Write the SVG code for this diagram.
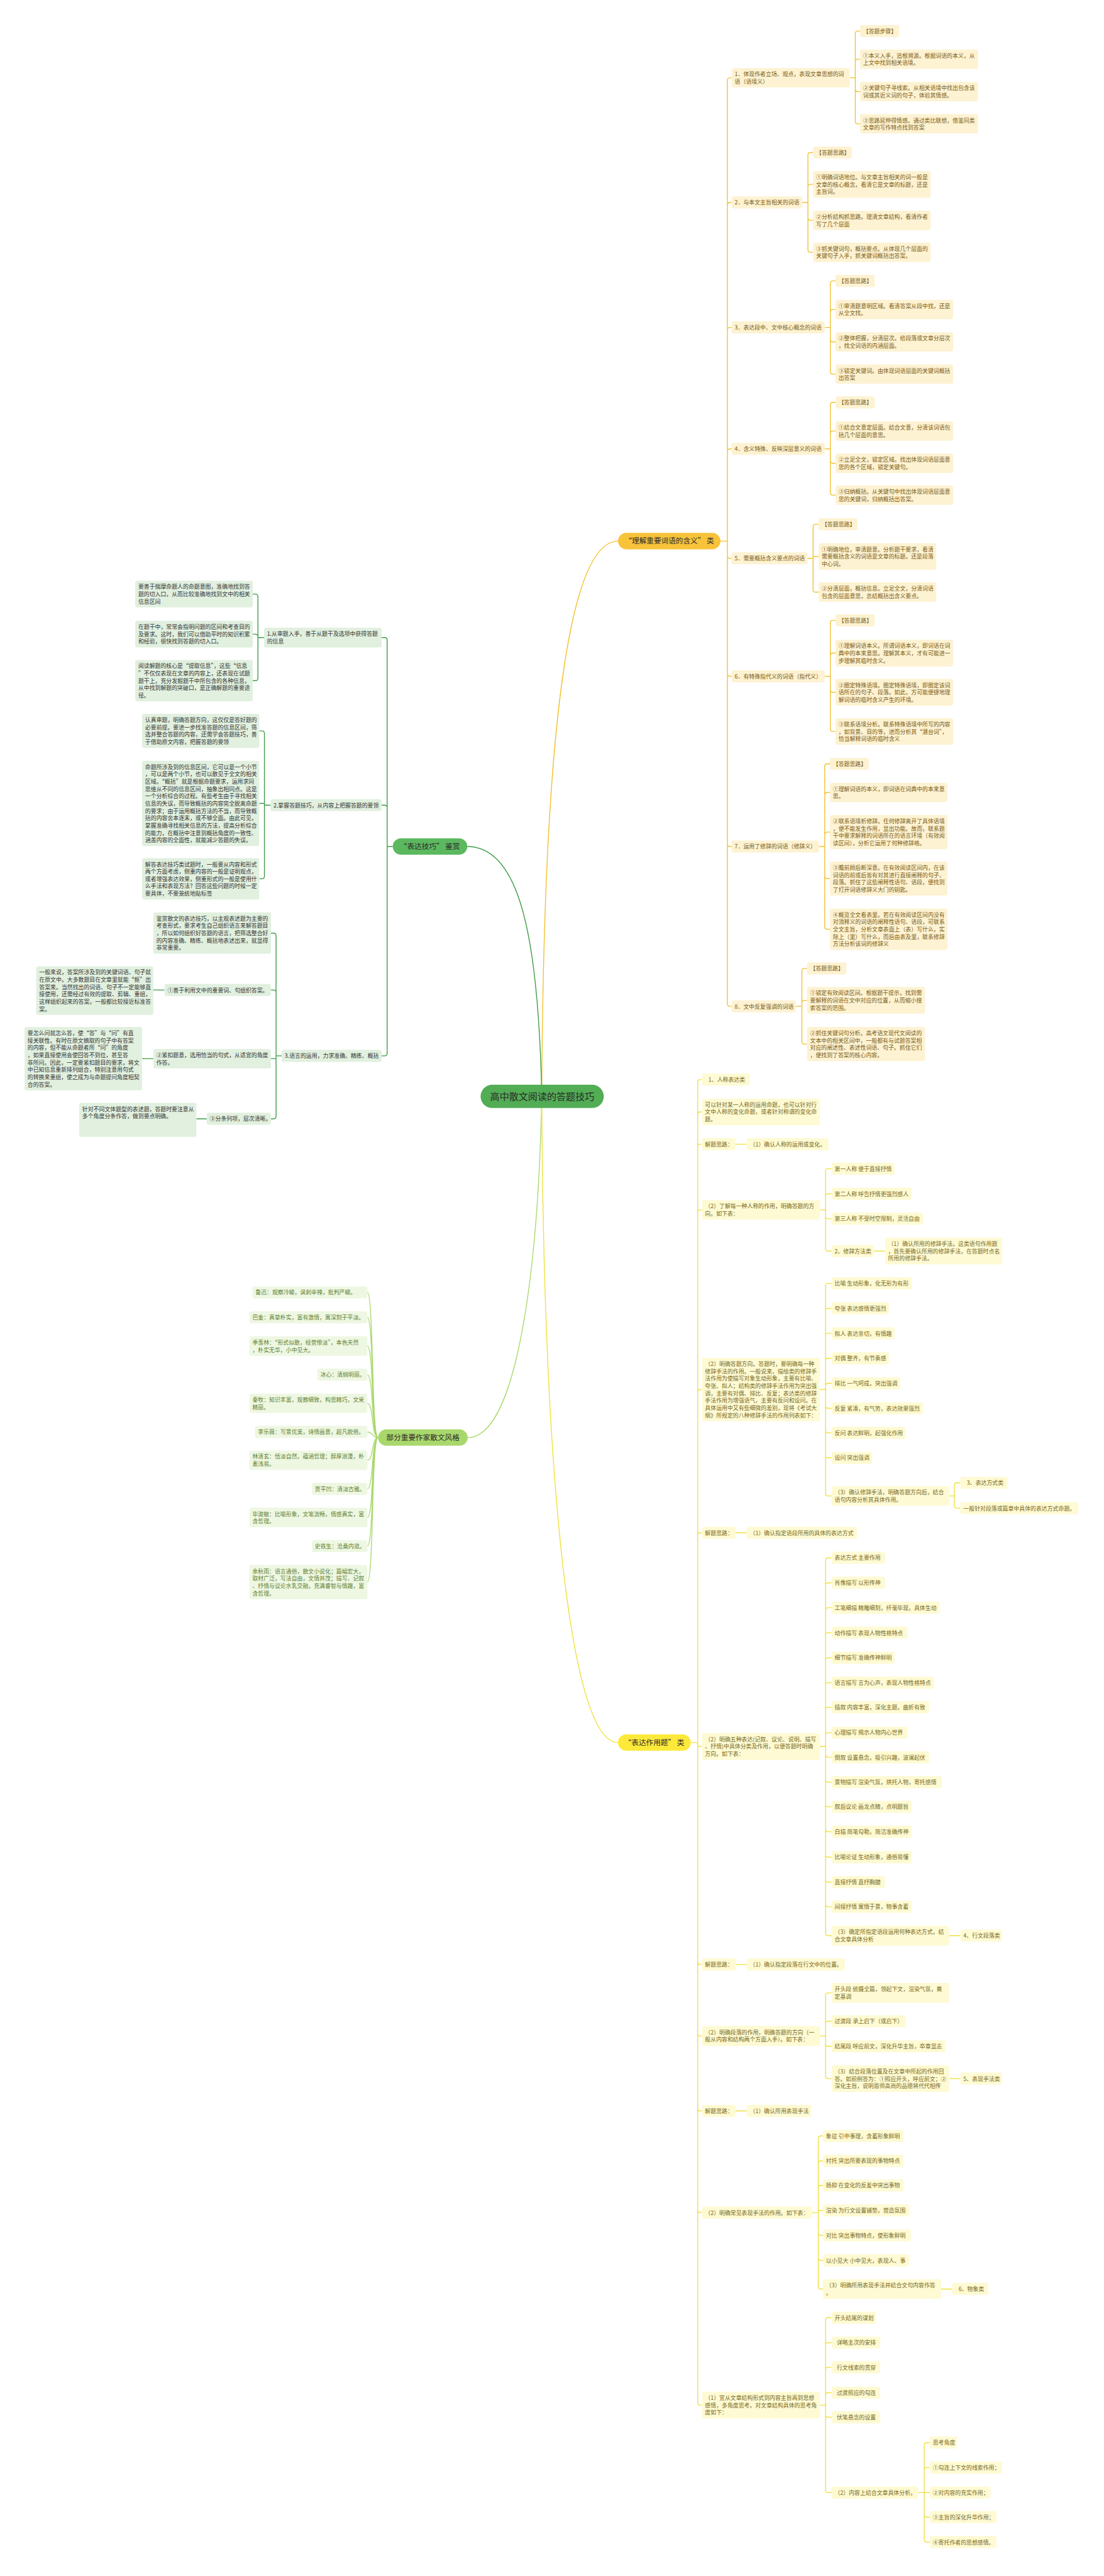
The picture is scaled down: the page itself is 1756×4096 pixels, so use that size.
<svg xmlns="http://www.w3.org/2000/svg" width="1756" height="4096" viewBox="0 0 1756 4096">
<style>
text{font-family:"Noto Sans CJK SC","Noto Sans",sans-serif;font-size:13px}
.a rect{fill:#fdf2d2}.a text{fill:#7a5c14}
.b rect{fill:#e1f0df}.b text{fill:#333333}
.c rect{fill:#eef7e2}.c text{fill:#5f8030}
.d rect{fill:#fefad3}.d text{fill:#77691c}
.lk path{fill:none;stroke-width:2}
.lab text{font-size:17px;text-anchor:middle;fill:#2a2a2a}
</style>
<rect width="1756" height="4096" fill="#ffffff"/>
<g transform="scale(0.685)">
<g id="connectors" class="lk">
<path stroke="#f2c12e" stroke-width="2.5" d="M1258,2545C1262,1700 1320,1256 1435,1256"/>
<path stroke="#3d9b47" stroke-width="2.5" d="M1258,2545C1250,2150 1200,1965 1085,1965"/>
<path stroke="#a9d96c" stroke-width="2.5" d="M1258,2545C1250,2950 1200,3337 1086,3337"/>
<path stroke="#f0e03a" stroke-width="2.5" d="M1258,2545C1262,3400 1320,4045 1435,4045"/>
<path stroke="#f2c12e" d="M1673,1256H1689M1689,1256V186.5Q1689,180.5 1695,180.5H1699M1689,1256V476Q1689,470 1695,470H1699M1689,1256V766Q1689,760 1695,760H1699M1689,1256V1048Q1689,1042 1695,1042H1699M1689,1256V1290Q1689,1296 1695,1296H1699M1689,1256V1564Q1689,1570 1695,1570H1699M1689,1256V1959Q1689,1965 1695,1965H1699M1689,1256V2330Q1689,2336 1695,2336H1699
M1973,180.5H1986M1986,180.5V78Q1986,72 1992,72H1997M1986,180.5V143.5Q1986,137.5 1992,137.5H1997M1986,180.5V206.5Q1986,212.5 1992,212.5H1997M1986,180.5V281.5Q1986,287.5 1992,287.5H1997
M1863,470H1876M1876,470V360Q1876,354 1882,354H1888M1876,470V434Q1876,428 1882,428H1888M1876,470V505.5Q1876,511.5 1882,511.5H1888M1876,470V579.5Q1876,585.5 1882,585.5H1888
M1915,760H1928M1928,760V658Q1928,652 1934,652H1940M1928,760V724.5Q1928,718.5 1934,718.5H1940M1928,760V787.5Q1928,793.5 1934,793.5H1940M1928,760V862.5Q1928,868.5 1934,868.5H1940
M1915,1042H1928M1928,1042V940Q1928,934 1934,934H1940M1928,1042V1006.5Q1928,1000.5 1934,1000.5H1940M1928,1042V1069.5Q1928,1075.5 1934,1075.5H1940M1928,1042V1143.5Q1928,1149.5 1934,1149.5H1940
M1875,1296H1888M1888,1296V1223Q1888,1217 1894,1217H1901M1888,1296V1292H1901M1888,1296V1368.5Q1888,1374.5 1894,1374.5H1901
M1915,1570H1928M1928,1570V1446Q1928,1440 1934,1440H1940M1928,1570V1522Q1928,1516 1934,1516H1940M1928,1570V1601Q1928,1607 1934,1607H1940M1928,1570V1692Q1928,1698 1934,1698H1940
M1902,1965H1915M1915,1965V1779Q1915,1773 1921,1773H1927M1915,1965V1845.5Q1915,1839.5 1921,1839.5H1927M1915,1965V1937.5Q1915,1931.5 1921,1931.5H1927M1915,1965V2033.5Q1915,2039.5 1921,2039.5H1927M1915,1965V2151Q1915,2157 1921,2157H1927
M1848,2336H1862M1862,2336V2254Q1862,2248 1868,2248H1874M1862,2336V2328Q1862,2322 1868,2322H1874M1862,2336V2417.5Q1862,2423.5 1868,2423.5H1874"/>
<path stroke="#3d9b47" d="M912,1965H899M899,1965V1486Q899,1480 893,1480H886M899,1965V1875Q899,1869 893,1869H886M899,1965V2445Q899,2451 893,2451H886
M613,1480H599M599,1480V1385Q599,1379 593,1379H587M599,1480V1478Q599,1472 593,1472H587M599,1480V1574Q599,1580 593,1580H587
M628,1869H614M614,1869V1702.5Q614,1696.5 608,1696.5H602M614,1869V1865H602M614,1869V2034Q614,2040 608,2040H602
M654,2451H641M641,2451V2172Q641,2166 635,2166H629M641,2451V2304Q641,2298 635,2298H629M641,2451V2457.5H629M641,2451V2591Q641,2597 635,2597H629
M382,2298H356M356,2457.5H330M480,2597H456"/>
<path stroke="#a9d96c" d="M878,3337C862,3337 868,3000 853,3000M878,3337C862,3337 868,3058 853,3058M878,3337C862,3337 868,3124.5 853,3124.5M878,3337C862,3337 868,3191 853,3191M878,3337C862,3337 868,3257.5 853,3257.5M878,3337C862,3337 868,3324 853,3324M878,3337C862,3337 868,3389.5 853,3389.5M878,3337C862,3337 868,3456 853,3456M878,3337C862,3337 868,3522.5 853,3522.5M878,3337C862,3337 868,3589 853,3589M878,3337C862,3337 868,3672.5 853,3672.5"/>
<path stroke="#f0e03a" d="M1604,4045H1620M1620,4045V2512Q1620,2506 1626,2506H1630M1620,4045V2587Q1620,2581 1626,2581H1630M1620,4045V2662Q1620,2656 1626,2656H1630M1620,4045V2814.5Q1620,2808.5 1626,2808.5H1630M1620,4045V3231.5Q1620,3225.5 1626,3225.5H1630M1620,4045V3564Q1620,3558 1626,3558H1630M1620,4045V4048Q1620,4054 1626,4054H1630M1620,4045V4554Q1620,4560 1626,4560H1630M1620,4045V4720Q1620,4726 1626,4726H1630M1620,4045V4894Q1620,4900 1626,4900H1630M1620,4045V5130Q1620,5136 1626,5136H1630M1620,4045V5577Q1620,5583 1626,5583H1630
M1708,2656H1734M1708,3558H1734M1708,4560H1734M1708,4900H1734
M1904,2808.5H1917M1917,2808.5V2719Q1917,2713 1923,2713H1931M1917,2808.5V2777Q1917,2771 1923,2771H1931M1917,2808.5V2823Q1917,2829 1923,2829H1931M1917,2808.5V2898Q1917,2904 1923,2904H1931M2029,2904H2055
M1904,3225.5H1917M1917,3225.5V2985Q1917,2979 1923,2979H1931M1917,3225.5V3043Q1917,3037 1923,3037H1931M1917,3225.5V3101Q1917,3095 1923,3095H1931M1917,3225.5V3159Q1917,3153 1923,3153H1931M1917,3225.5V3217Q1917,3211 1923,3211H1931M1917,3225.5V3263Q1917,3269 1923,3269H1931M1917,3225.5V3320Q1917,3326 1923,3326H1931M1917,3225.5V3378Q1917,3384 1923,3384H1931M1917,3225.5V3466.5Q1917,3472.5 1923,3472.5H1931
M2204,3472.5H2216M2216,3472.5V3448Q2216,3442 2222,3442H2230M2216,3472.5V3495Q2216,3501 2222,3501H2230
M1904,4054H1917M1917,4054V3622Q1917,3616 1923,3616H1931M1917,4054V3680Q1917,3674 1923,3674H1931M1917,4054V3738Q1917,3732 1923,3732H1931M1917,4054V3796Q1917,3790 1923,3790H1931M1917,4054V3854Q1917,3848 1923,3848H1931M1917,4054V3912Q1917,3906 1923,3906H1931M1917,4054V3969Q1917,3963 1923,3963H1931M1917,4054V4028Q1917,4022 1923,4022H1931M1917,4054V4073Q1917,4079 1923,4079H1931M1917,4054V4131Q1917,4137 1923,4137H1931M1917,4054V4188Q1917,4194 1923,4194H1931M1917,4054V4246Q1917,4252 1923,4252H1931M1917,4054V4305Q1917,4311 1923,4311H1931M1917,4054V4363Q1917,4369 1923,4369H1931M1917,4054V4420Q1917,4426 1923,4426H1931M1917,4054V4487Q1917,4493 1923,4493H1931M2204,4493H2230
M1904,4726H1917M1917,4726V4632Q1917,4626 1923,4626H1931M1917,4726V4698Q1917,4692 1923,4692H1931M1917,4726V4744Q1917,4750 1923,4750H1931M1917,4726V4819Q1917,4825 1923,4825H1931M2204,4825H2230
M1886,5136H1900M1900,5136V4964Q1900,4958 1906,4958H1911M1900,5136V5022Q1900,5016 1906,5016H1911M1900,5136V5079Q1900,5073 1906,5073H1911M1900,5136V5131H1911M1900,5136V5183Q1900,5189 1906,5189H1911M1900,5136V5241Q1900,5247 1906,5247H1911M1900,5136V5307.5Q1900,5313.5 1906,5313.5H1911M2185,5313.5H2211
M1904,5583H1917M1917,5583V5386Q1917,5380 1923,5380H1931M1917,5583V5444Q1917,5438 1923,5438H1931M1917,5583V5501Q1917,5495 1923,5495H1931M1917,5583V5560Q1917,5554 1923,5554H1931M1917,5583V5605Q1917,5611 1923,5611H1931M1917,5583V5780Q1917,5786 1923,5786H1931
M2132,5786H2146M2146,5786V5676Q2146,5670 2152,5670H2159M2146,5786V5734Q2146,5728 2152,5728H2159M2146,5786H2159M2146,5786V5837Q2146,5843 2152,5843H2159M2146,5786V5895Q2146,5901 2152,5901H2159"/>
</g>

<g id="center" class="lab"><rect x="1116" y="2518" width="286" height="54" rx="27" fill="#52ad55"/><text x="1259" y="2553" style="font-size:22px">高中散文阅读的答题技巧</text></g>
<g id="lab-top" class="lab"><rect x="1435" y="1237" width="238" height="38" rx="19" fill="#f8c33a"/><text x="1554" y="1262">“理解重要词语的含义” 类</text></g>
<g id="lab-left" class="lab"><rect x="912" y="1946" width="173" height="38" rx="19" fill="#5cb85f"/><text x="998" y="1971">“表达技巧” 鉴赏</text></g>
<g id="lab-bl" class="lab"><rect x="878" y="3318" width="208" height="38" rx="19" fill="#a8d86c"/><text x="982" y="3343">部分重要作家散文风格</text></g>
<g id="lab-br" class="lab"><rect x="1435" y="4026" width="169" height="38" rx="19" fill="#fde93a"/><text x="1519" y="4051">“表达作用题” 类</text></g>

<g id="r1" class="a"><rect x="1699" y="158" width="274" height="45" rx="5"/><text x="1706" y="177">1．体现作者立场、观点，表现文章思想的词<tspan x="1706" dy="17">语（语境义）</tspan></text></g>
<g id="r1a" class="a"><rect x="1997" y="58" width="91" height="28" rx="5"/><text x="2004" y="77">【答题步骤】</text></g>
<g id="r1b" class="a"><rect x="1997" y="115" width="274" height="45" rx="5"/><text x="2004" y="134">①本义入手，追根溯源。根据词语的本义，从<tspan x="2004" dy="17">上文中找到相关语境。</tspan></text></g>
<g id="r1c" class="a"><rect x="1997" y="190" width="274" height="45" rx="5"/><text x="2004" y="209">②关键句子寻线索。从相关语境中找出包含该<tspan x="2004" dy="17">词或其近义词的句子，体验其情感。</tspan></text></g>
<g id="r1d" class="a"><rect x="1997" y="265" width="274" height="45" rx="5"/><text x="2004" y="284">③思路延伸得情感。通过类比联想，借鉴同类<tspan x="2004" dy="17">文章的写作特点找到答案</tspan></text></g>

<g id="r2" class="a"><rect x="1699" y="456" width="164" height="28" rx="5"/><text x="1706" y="475">2．与本文主旨相关的词语</text></g>
<g id="r2a" class="a"><rect x="1888" y="340" width="90" height="28" rx="5"/><text x="1895" y="359">【答题思路】</text></g>
<g id="r2b" class="a"><rect x="1888" y="397" width="273" height="62" rx="5"/><text x="1895" y="416">①明确词语地位。与文章主旨相关的词一般是<tspan x="1895" dy="17">文章的核心概念，看清它是文章的标题，还是</tspan><tspan x="1895" dy="17">主旨词。</tspan></text></g>
<g id="r2c" class="a"><rect x="1888" y="489" width="273" height="45" rx="5"/><text x="1895" y="508">②分析结构抓思路。理清文章结构，看清作者<tspan x="1895" dy="17">写了几个层面</tspan></text></g>
<g id="r2d" class="a"><rect x="1888" y="563" width="273" height="45" rx="5"/><text x="1895" y="582">③抓关键词句，概括要点。从体现几个层面的<tspan x="1895" dy="17">关键句子入手，抓关键词概括出答案。</tspan></text></g>

<g id="r3" class="a"><rect x="1699" y="746" width="216" height="28" rx="5"/><text x="1706" y="765">3．表达段中、文中核心概念的词语</text></g>
<g id="r3a" class="a"><rect x="1940" y="638" width="91" height="28" rx="5"/><text x="1947" y="657">【答题思路】</text></g>
<g id="r3b" class="a"><rect x="1940" y="696" width="273" height="45" rx="5"/><text x="1947" y="715">①审清题意明区域。看清答案从段中找，还是<tspan x="1947" dy="17">从全文找。</tspan></text></g>
<g id="r3c" class="a"><rect x="1940" y="771" width="273" height="45" rx="5"/><text x="1947" y="790">②整体把握，分清层次。给段落或文章分层次<tspan x="1947" dy="17">，找全词语的内涵层面。</tspan></text></g>
<g id="r3d" class="a"><rect x="1940" y="846" width="273" height="45" rx="5"/><text x="1947" y="865">③锁定关键词。由体现词语层面的关键词概括<tspan x="1947" dy="17">出答案</tspan></text></g>

<g id="r4" class="a"><rect x="1699" y="1028" width="216" height="28" rx="5"/><text x="1706" y="1047">4．含义特殊、反映深层意义的词语</text></g>
<g id="r4a" class="a"><rect x="1940" y="920" width="91" height="28" rx="5"/><text x="1947" y="939">【答题思路】</text></g>
<g id="r4b" class="a"><rect x="1940" y="978" width="273" height="45" rx="5"/><text x="1947" y="997">①结合文意定层面。结合文意，分清该词语包<tspan x="1947" dy="17">括几个层面的意思。</tspan></text></g>
<g id="r4c" class="a"><rect x="1940" y="1053" width="273" height="45" rx="5"/><text x="1947" y="1072">②立足全文，锁定区域。找出体现词语层面意<tspan x="1947" dy="17">思的各个区域，锁定关键句。</tspan></text></g>
<g id="r4d" class="a"><rect x="1940" y="1127" width="273" height="45" rx="5"/><text x="1947" y="1146">③归纳概括。从关键句中找出体现词语层面意<tspan x="1947" dy="17">思的关键词，归纳概括出答案。</tspan></text></g>

<g id="r5" class="a"><rect x="1699" y="1282" width="176" height="28" rx="5"/><text x="1706" y="1301">5．需要概括含义要点的词语</text></g>
<g id="r5a" class="a"><rect x="1901" y="1203" width="90" height="28" rx="5"/><text x="1908" y="1222">【答题思路】</text></g>
<g id="r5b" class="a"><rect x="1901" y="1261" width="273" height="62" rx="5"/><text x="1908" y="1280">①明确地位，审清题意。分析题干要求，看清<tspan x="1908" dy="17">需要概括含义的词语是文章的标题，还是段落</tspan><tspan x="1908" dy="17">中心词。</tspan></text></g>
<g id="r5c" class="a"><rect x="1901" y="1352" width="273" height="45" rx="5"/><text x="1908" y="1371">②分清层面，概括信息。立足全文，分清词语<tspan x="1908" dy="17">包含的层面意思，总结概括出含义要点。</tspan></text></g>

<g id="r6" class="a"><rect x="1699" y="1556" width="216" height="28" rx="5"/><text x="1706" y="1575">6．有特殊指代义的词语（指代义）</text></g>
<g id="r6a" class="a"><rect x="1940" y="1426" width="91" height="28" rx="5"/><text x="1947" y="1445">【答题思路】</text></g>
<g id="r6b" class="a"><rect x="1940" y="1485" width="273" height="62" rx="5"/><text x="1947" y="1504">①理解词语本义。所谓词语本义，即词语在词<tspan x="1947" dy="17">典中的本来意思。理解其本义，才有可能进一</tspan><tspan x="1947" dy="17">步理解其临时含义。</tspan></text></g>
<g id="r6c" class="a"><rect x="1940" y="1576" width="273" height="62" rx="5"/><text x="1947" y="1595">②圈定特殊语境。圈定特殊语境，即圈定该词<tspan x="1947" dy="17">语所在的句子、段落。如此，方可能便捷地理</tspan><tspan x="1947" dy="17">解词语的临时含义产生的环境。</tspan></text></g>
<g id="r6d" class="a"><rect x="1940" y="1667" width="273" height="62" rx="5"/><text x="1947" y="1686">③联系语境分析。联系特殊语境中所写的内容<tspan x="1947" dy="17">，如背景、目的等，进而分析其“潜台词”，</tspan><tspan x="1947" dy="17">恰当解释词语的临时含义</tspan></text></g>

<g id="r7" class="a"><rect x="1699" y="1951" width="203" height="28" rx="5"/><text x="1706" y="1970">7．运用了修辞的词语（修辞义）</text></g>
<g id="r7a" class="a"><rect x="1927" y="1759" width="90" height="28" rx="5"/><text x="1934" y="1778">【答题思路】</text></g>
<g id="r7b" class="a"><rect x="1927" y="1817" width="273" height="45" rx="5"/><text x="1934" y="1836">①理解词语的本义，即词语在词典中的本来意<tspan x="1934" dy="17">思。</tspan></text></g>
<g id="r7c" class="a"><rect x="1927" y="1892" width="273" height="79" rx="5"/><text x="1934" y="1911">②联系语境析修辞。任何修辞离开了具体语境<tspan x="1934" dy="17">，便不能发生作用，显出功能。故而，联系题</tspan><tspan x="1934" dy="17">干中要求解释的词语所在的语言环境（有效阅</tspan><tspan x="1934" dy="17">读区间），分析它运用了何种修辞格。</tspan></text></g>
<g id="r7d" class="a"><rect x="1927" y="2000" width="273" height="79" rx="5"/><text x="1934" y="2019">③瞻前顾后断深意。在有效阅读区间内，在该<tspan x="1934" dy="17">词语的前或后皆有对其进行直接阐释的句子、</tspan><tspan x="1934" dy="17">段落。抓住了这些阐释性语句、语段，便找到</tspan><tspan x="1934" dy="17">了打开词语修辞义大门的钥匙。</tspan></text></g>
<g id="r7e" class="a"><rect x="1927" y="2109" width="273" height="96" rx="5"/><text x="1934" y="2128">④概览全文看表里。若在有效阅读区间内没有<tspan x="1934" dy="17">对须释义的词语的阐释性语句、语段，可联系</tspan><tspan x="1934" dy="17">全文主旨，分析文章表面上（表）写什么，实</tspan><tspan x="1934" dy="17">际上（里）写什么，而后由表及里，联系修辞</tspan><tspan x="1934" dy="17">方法分析该词的修辞义</tspan></text></g>

<g id="r8" class="a"><rect x="1699" y="2322" width="149" height="28" rx="5"/><text x="1706" y="2341">8．文中反复强调的词语</text></g>
<g id="r8a" class="a"><rect x="1874" y="2234" width="91" height="28" rx="5"/><text x="1881" y="2253">【答题思路】</text></g>
<g id="r8b" class="a"><rect x="1874" y="2291" width="274" height="62" rx="5"/><text x="1881" y="2310">①锁定有效阅读区间。根据题干提示，找到需<tspan x="1881" dy="17">要解释的词语在文中对应的位置，从而缩小搜</tspan><tspan x="1881" dy="17">索答案的范围。</tspan></text></g>
<g id="r8c" class="a"><rect x="1874" y="2384" width="274" height="79" rx="5"/><text x="1881" y="2403">②抓住关键词句分析。高考语文现代文阅读的<tspan x="1881" dy="17">文本中的相关区间中，一般都有与试题答案相</tspan><tspan x="1881" dy="17">对应的阐述性、表述性词语、句子。抓住它们</tspan><tspan x="1881" dy="17">，便找到了答案的核心内容。</tspan></text></g>

<g id="l1" class="b"><rect x="613" y="1457" width="273" height="46" rx="5"/><text x="620" y="1476">1.从审题入手，善于从题干及选项中获得答题<tspan x="620" dy="17">的信息</tspan></text></g>
<g id="l1a" class="b"><rect x="314" y="1348" width="273" height="62" rx="5"/><text x="321" y="1367">要善于揣摩命题人的命题意图，准确地找到答<tspan x="321" dy="17">题的切入口，从而比较准确地找到文中的相关</tspan><tspan x="321" dy="17">信息区间</tspan></text></g>
<g id="l1b" class="b"><rect x="314" y="1441" width="273" height="62" rx="5"/><text x="321" y="1460">在题干中，常常会指明问题的区间和考查目的<tspan x="321" dy="17">及要求。这时，我们可以借助平时的知识积累</tspan><tspan x="321" dy="17">和经验，很快找到答题的切入口。</tspan></text></g>
<g id="l1c" class="b"><rect x="314" y="1532" width="273" height="96" rx="5"/><text x="321" y="1551">阅读解题的核心是“提取信息”，这些“信息<tspan x="321" dy="17">”不仅仅表现在文章的内容上，还表现在试题</tspan><tspan x="321" dy="17">题干上，充分发掘题干中所包含的各种信息，</tspan><tspan x="321" dy="17">从中找到解题的突破口，是正确解题的重要途</tspan><tspan x="321" dy="17">径。</tspan></text></g>

<g id="l2" class="b"><rect x="628" y="1855" width="258" height="28" rx="5"/><text x="635" y="1874">2.掌握答题技巧，从内容上把握答题的要领</text></g>
<g id="l2a" class="b"><rect x="330" y="1657" width="272" height="79" rx="5"/><text x="337" y="1676">认真审题，明确答题方向，这仅仅是答好题的<tspan x="337" dy="17">必要前提。要进一步找准答题的信息区间，筛</tspan><tspan x="337" dy="17">选并整合答题的内容，还需学会答题技巧，善</tspan><tspan x="337" dy="17">于借助原文内容，把握答题的要领</tspan></text></g>
<g id="l2b" class="b"><rect x="330" y="1766" width="272" height="198" rx="5"/><text x="337" y="1785">命题所涉及到的信息区间，它可以是一个小节<tspan x="337" dy="17">，可以是两个小节，也可以散见于全文的相关</tspan><tspan x="337" dy="17">区域。“概括”就是根据命题要求，运用求同</tspan><tspan x="337" dy="17">思维从不同的信息区间，抽象出相同点。这是</tspan><tspan x="337" dy="17">一个分析综合的过程。有些考生由于寻找相关</tspan><tspan x="337" dy="17">信息的失误，而导致概括的内容完全脱离命题</tspan><tspan x="337" dy="17">的要求；由于运用概括方法的不当，而导致概</tspan><tspan x="337" dy="17">括的内容舍本逐末，或不够全面。由此可见，</tspan><tspan x="337" dy="17">掌握准确寻找相关信息的方法，提高分析综合</tspan><tspan x="337" dy="17">的能力，在概括中注意到概括角度的一致性、</tspan><tspan x="337" dy="17">涵盖内容的全面性，就能减少答题的失误。</tspan></text></g>
<g id="l2c" class="b"><rect x="330" y="1992" width="272" height="96" rx="5"/><text x="337" y="2011">解答表达技巧类试题时，一般要从内容和形式<tspan x="337" dy="17">两个方面考虑，侧重内容的一般是证明观点，</tspan><tspan x="337" dy="17">或者增强表达效果，侧重形式的一般是使用什</tspan><tspan x="337" dy="17">么手法和表现方法？回答这些问题的时候一定</tspan><tspan x="337" dy="17">要具体，不要笼统地贴标签</tspan></text></g>

<g id="l3" class="b"><rect x="654" y="2437" width="232" height="28" rx="5"/><text x="661" y="2456">3.语言的运用，力求准确、精练、概括</text></g>
<g id="l3a" class="b"><rect x="356" y="2118" width="273" height="96" rx="5"/><text x="363" y="2137">鉴赏散文的表达技巧，以主观表述题为主要的<tspan x="363" dy="17">考查形式，要求考生自己组织语言来解答题目</tspan><tspan x="363" dy="17">，所以如何组织好答题的语言，把筛选整合好</tspan><tspan x="363" dy="17">的内容准确、精练、概括地表述出来，就显得</tspan><tspan x="363" dy="17">非常重要。</tspan></text></g>
<g id="l3b" class="b"><rect x="382" y="2284" width="247" height="28" rx="5"/><text x="389" y="2303">①善于利用文中的重要词、句组织答案。</text></g>
<g id="l3b1" class="b"><rect x="84" y="2243" width="272" height="113" rx="5"/><text x="91" y="2262">一般来说，答案所涉及到的关键词语、句子就<tspan x="91" dy="17">在原文中。大多数题目在文章里就能“抠”出</tspan><tspan x="91" dy="17">答案来。当然找出的词语、句子不一定能够直</tspan><tspan x="91" dy="17">接使用，还需经过有效的提取、剪辑、重组，</tspan><tspan x="91" dy="17">这样组织起来的答案，一般都比较接近标准答</tspan><tspan x="91" dy="17">案。</tspan></text></g>
<g id="l3c" class="b"><rect x="356" y="2435" width="273" height="45" rx="5"/><text x="363" y="2454">②紧扣题意，选用恰当的句式，从适宜的角度<tspan x="363" dy="17">作答。</tspan></text></g>
<g id="l3c1" class="b"><rect x="57" y="2384" width="273" height="147" rx="5"/><text x="64" y="2403">要怎么问就怎么答，使“答”与“问”有直<tspan x="64" dy="17">接关联性。有时在原文摘取的句子中有答案</tspan><tspan x="64" dy="17">的内容，但不能从命题者所“问”的角度</tspan><tspan x="64" dy="17">，如果直接使用会使回答不到位，甚至答</tspan><tspan x="64" dy="17">非所问。因此，一定要紧扣题目的要求，将文</tspan><tspan x="64" dy="17">中已知信息重新排列组合，特别注意用句式</tspan><tspan x="64" dy="17">的转换来重组，使之成为与命题提问角度相契</tspan><tspan x="64" dy="17">合的答案。</tspan></text></g>
<g id="l3d" class="b"><rect x="480" y="2583" width="149" height="28" rx="5"/><text x="487" y="2602">③分条列项，层次清晰。</text></g>
<g id="l3d1" class="b"><rect x="184" y="2560" width="272" height="79" rx="5"/><text x="191" y="2579">针对不同文体题型的表述题，答题时要注意从<tspan x="191" dy="17">多个角度分条作答，做到要点明确。</tspan></text></g>

<g id="s1" class="c"><rect x="586" y="2986" width="267" height="28" rx="5"/><text x="593" y="3005">鲁迅：观察冷峻，讽刺辛辣，批判严峻。</text></g>
<g id="s2" class="c"><rect x="579" y="3044" width="274" height="28" rx="5"/><text x="586" y="3063">巴金：真挚朴实，富有激情，寓深刻于平淡。</text></g>
<g id="s3" class="c"><rect x="579" y="3102" width="274" height="45" rx="5"/><text x="586" y="3121">季羡林：“形式似散，经营惨淡”，本色天然<tspan x="586" dy="17">，朴实无华，小中见大。</tspan></text></g>
<g id="s4" class="c"><rect x="737" y="3177" width="116" height="28" rx="5"/><text x="744" y="3196">冰心：清婉明丽。</text></g>
<g id="s5" class="c"><rect x="579" y="3235" width="274" height="45" rx="5"/><text x="586" y="3254">秦牧：知识丰富，观察细致，构思精巧，文采<tspan x="586" dy="17">精丽。</tspan></text></g>
<g id="s6" class="c"><rect x="592" y="3310" width="261" height="28" rx="5"/><text x="599" y="3329">李乐薇：写景优美，诗情画意，超凡脱俗。</text></g>
<g id="s7" class="c"><rect x="579" y="3367" width="274" height="45" rx="5"/><text x="586" y="3386">林清玄：恬淡自然，蕴涵哲理；醇厚浪漫，朴<tspan x="586" dy="17">素浅易。</tspan></text></g>
<g id="s8" class="c"><rect x="724" y="3442" width="129" height="28" rx="5"/><text x="731" y="3461">贾平凹：清淡古雅。</text></g>
<g id="s9" class="c"><rect x="579" y="3500" width="274" height="45" rx="5"/><text x="586" y="3519">毕淑敏：比喻形象，文笔流畅，情感真实，富<tspan x="586" dy="17">含哲理。</tspan></text></g>
<g id="s10" class="c"><rect x="724" y="3575" width="129" height="28" rx="5"/><text x="731" y="3594">史铁生：沧桑内敛。</text></g>
<g id="s11" class="c"><rect x="579" y="3633" width="274" height="79" rx="5"/><text x="586" y="3652">余秋雨：语言通俗，散文小说化；篇幅宏大，<tspan x="586" dy="17">取材广泛，写法自由，文情并茂；描写、记叙</tspan><tspan x="586" dy="17">、抒情与议论水乳交融，充满睿智与情趣，富</tspan><tspan x="586" dy="17">含哲理。</tspan></text></g>

<g id="m1" class="d"><rect x="1630" y="2492" width="111" height="28" rx="5"/><text x="1645" y="2511">1、人称表达类</text></g>
<g id="m2" class="d"><rect x="1630" y="2550" width="274" height="62" rx="5"/><text x="1637" y="2569">可以针对某一人称的运用命题，也可以针对行<tspan x="1637" dy="17">文中人称的变化命题，或者针对称谓的变化命</tspan><tspan x="1637" dy="17">题。</tspan></text></g>
<g id="m3" class="d"><rect x="1630" y="2642" width="78" height="28" rx="5"/><text x="1637" y="2661">解题思路：</text></g>
<g id="m3a" class="d"><rect x="1734" y="2642" width="190" height="28" rx="5"/><text x="1741" y="2661">（1）确认人称的运用或变化。</text></g>
<g id="m4" class="d"><rect x="1630" y="2786" width="274" height="45" rx="5"/><text x="1637" y="2805">（2）了解每一种人称的作用，明确答题的方<tspan x="1637" dy="17">向。如下表：</tspan></text></g>
<g id="m4a" class="d"><rect x="1931" y="2699" width="146" height="28" rx="5"/><text x="1938" y="2718">第一人称 便于直接抒情</text></g>
<g id="m4b" class="d"><rect x="1931" y="2757" width="186" height="28" rx="5"/><text x="1938" y="2776">第二人称 呼告抒情更强烈感人</text></g>
<g id="m4c" class="d"><rect x="1931" y="2815" width="212" height="28" rx="5"/><text x="1938" y="2834">第三人称 不受时空限制，灵活自由</text></g>
<g id="m4d" class="d"><rect x="1931" y="2890" width="98" height="28" rx="5"/><text x="1938" y="2909">2、修辞方法类</text></g>
<g id="m4d1" class="d"><rect x="2055" y="2873" width="272" height="62" rx="5"/><text x="2062" y="2892">（1）确认所用的修辞手法。这类语句作用题<tspan x="2062" dy="17">，首先要确认所用的修辞手法，在答题时点名</tspan><tspan x="2062" dy="17">所用的修辞手法。</tspan></text></g>

<g id="m5" class="d"><rect x="1630" y="3152" width="274" height="147" rx="5"/><text x="1637" y="3171">（2）明确答题方向。答题时，要明确每一种<tspan x="1637" dy="17">修辞手法的作用。一般说来，描绘类的修辞手</tspan><tspan x="1637" dy="17">法作用为使描写对象生动形象，主要有比喻、</tspan><tspan x="1637" dy="17">夸张、拟人；结构类的修辞手法作用为突出强</tspan><tspan x="1637" dy="17">调，主要有对偶、排比、反复；表达类的修辞</tspan><tspan x="1637" dy="17">手法作用为增强语气，主要有反问和设问。在</tspan><tspan x="1637" dy="17">具体运用中又有些细微的差别，现将《考试大</tspan><tspan x="1637" dy="17">纲》所规定的八种修辞手法的作用列表如下：</tspan></text></g>
<g id="m5a" class="d"><rect x="1931" y="2965" width="186" height="28" rx="5"/><text x="1938" y="2984">比喻 生动形象，化无形为有形</text></g>
<g id="m5b" class="d"><rect x="1931" y="3023" width="133" height="28" rx="5"/><text x="1938" y="3042">夸张 表达感情更强烈</text></g>
<g id="m5c" class="d"><rect x="1931" y="3081" width="146" height="28" rx="5"/><text x="1938" y="3100">拟人 表达亲切，有情趣</text></g>
<g id="m5d" class="d"><rect x="1931" y="3139" width="133" height="28" rx="5"/><text x="1938" y="3158">对偶 整齐，有节奏感</text></g>
<g id="m5e" class="d"><rect x="1931" y="3197" width="159" height="28" rx="5"/><text x="1938" y="3216">排比 一气呵成，突出强调</text></g>
<g id="m5f" class="d"><rect x="1931" y="3255" width="212" height="28" rx="5"/><text x="1938" y="3274">反复 紧凑，有气势，表达效果强烈</text></g>
<g id="m5g" class="d"><rect x="1931" y="3312" width="172" height="28" rx="5"/><text x="1938" y="3331">反问 表达鲜明，起强化作用</text></g>
<g id="m5h" class="d"><rect x="1931" y="3370" width="94" height="28" rx="5"/><text x="1938" y="3389">设问 突出强调</text></g>
<g id="m5i" class="d"><rect x="1931" y="3450" width="273" height="45" rx="5"/><text x="1938" y="3469">（3）确认修辞手法，明确答题方向后，结合<tspan x="1938" dy="17">语句内容分析其具体作用。</tspan></text></g>
<g id="m5i1" class="d"><rect x="2230" y="3428" width="109" height="28" rx="5"/><text x="2245" y="3447">3、表达方式类</text></g>
<g id="m5i2" class="d"><rect x="2230" y="3487" width="274" height="28" rx="5"/><text x="2237" y="3506">一般针对段落或篇章中具体的表达方式命题。</text></g>

<g id="m6" class="d"><rect x="1630" y="3544" width="78" height="28" rx="5"/><text x="1637" y="3563">解题思路：</text></g>
<g id="m6a" class="d"><rect x="1734" y="3544" width="256" height="28" rx="5"/><text x="1741" y="3563">（1）确认指定语段所用的具体的表达方式</text></g>

<g id="m7" class="d"><rect x="1630" y="4023" width="274" height="62" rx="5"/><text x="1637" y="4042">（2）明确五种表达(记叙、议论、说明、描写<tspan x="1637" dy="17">、抒情)中具体分类及作用，以便答题时明确</tspan><tspan x="1637" dy="17">方向。如下表：</tspan></text></g>
<g id="m7a" class="d"><rect x="1931" y="3602" width="124" height="28" rx="5"/><text x="1938" y="3621">表达方式 主要作用</text></g>
<g id="m7b" class="d"><rect x="1931" y="3660" width="124" height="28" rx="5"/><text x="1938" y="3679">肖像描写 以形传神</text></g>
<g id="m7c" class="d"><rect x="1931" y="3718" width="251" height="28" rx="5"/><text x="1938" y="3737">工笔细描 精雕细刻，纤毫毕现，具体生动</text></g>
<g id="m7d" class="d"><rect x="1931" y="3776" width="176" height="28" rx="5"/><text x="1938" y="3795">动作描写 表现人物性格特点</text></g>
<g id="m7e" class="d"><rect x="1931" y="3834" width="146" height="28" rx="5"/><text x="1938" y="3853">细节描写 准确传神鲜明</text></g>
<g id="m7f" class="d"><rect x="1931" y="3892" width="238" height="28" rx="5"/><text x="1938" y="3911">语言描写 言为心声，表现人物性格特点</text></g>
<g id="m7g" class="d"><rect x="1931" y="3949" width="226" height="28" rx="5"/><text x="1938" y="3968">插叙 内容丰富，深化主题，曲折有致</text></g>
<g id="m7h" class="d"><rect x="1931" y="4008" width="176" height="28" rx="5"/><text x="1938" y="4027">心理描写 揭示人物内心世界</text></g>
<g id="m7i" class="d"><rect x="1931" y="4065" width="226" height="28" rx="5"/><text x="1938" y="4084">倒叙 设置悬念，吸引兴趣，波澜起伏</text></g>
<g id="m7j" class="d"><rect x="1931" y="4123" width="256" height="28" rx="5"/><text x="1938" y="4142">景物描写 渲染气氛，烘托人物，寄托感情</text></g>
<g id="m7k" class="d"><rect x="1931" y="4180" width="186" height="28" rx="5"/><text x="1938" y="4199">叙后议论 画龙点睛，点明题旨</text></g>
<g id="m7l" class="d"><rect x="1931" y="4238" width="186" height="28" rx="5"/><text x="1938" y="4257">白描 简笔勾勒，简洁准确传神</text></g>
<g id="m7m" class="d"><rect x="1931" y="4297" width="186" height="28" rx="5"/><text x="1938" y="4316">比喻论证 生动形象，通俗易懂</text></g>
<g id="m7n" class="d"><rect x="1931" y="4355" width="124" height="28" rx="5"/><text x="1938" y="4374">直接抒情 直抒胸臆</text></g>
<g id="m7o" class="d"><rect x="1931" y="4412" width="186" height="28" rx="5"/><text x="1938" y="4431">间接抒情 寓情于景，物事含蓄</text></g>
<g id="m7p" class="d"><rect x="1931" y="4470" width="273" height="46" rx="5"/><text x="1938" y="4489">（3）确定所指定语段运用何种表达方式，结<tspan x="1938" dy="17">合文章具体分析</tspan></text></g>
<g id="m7p1" class="d"><rect x="2230" y="4479" width="97" height="28" rx="5"/><text x="2237" y="4498">4、行文段落类</text></g>

<g id="m8" class="d"><rect x="1630" y="4546" width="78" height="28" rx="5"/><text x="1637" y="4565">解题思路：</text></g>
<g id="m8a" class="d"><rect x="1734" y="4546" width="228" height="28" rx="5"/><text x="1741" y="4565">（1）确认指定段落在行文中的位置。</text></g>

<g id="m9" class="d"><rect x="1630" y="4703" width="274" height="46" rx="5"/><text x="1637" y="4722">（2）明确段落的作用，明确答题的方向（一<tspan x="1637" dy="17">般从内容和结构两个方面入手）。如下表：</tspan></text></g>
<g id="m9a" class="d"><rect x="1931" y="4603" width="273" height="46" rx="5"/><text x="1938" y="4622">开头段 统摄全篇，领起下文，渲染气氛，奠<tspan x="1938" dy="17">定基调</tspan></text></g>
<g id="m9b" class="d"><rect x="1931" y="4678" width="172" height="28" rx="5"/><text x="1938" y="4697">过渡段 承上启下（或启下）</text></g>
<g id="m9c" class="d"><rect x="1931" y="4736" width="264" height="28" rx="5"/><text x="1938" y="4755">结尾段 呼应前文，深化升华主旨，卒章显志</text></g>
<g id="m9d" class="d"><rect x="1931" y="4794" width="273" height="62" rx="5"/><text x="1938" y="4813">（3）结合段落位置及在文章中所起的作用回<tspan x="1938" dy="17">答。如前例答为：①照应开头，呼应前文；②</tspan><tspan x="1938" dy="17">深化主旨，说明恩师高尚的品德将代代相传</tspan></text></g>
<g id="m9d1" class="d"><rect x="2230" y="4811" width="97" height="28" rx="5"/><text x="2237" y="4830">5、表现手法类</text></g>

<g id="m10" class="d"><rect x="1630" y="4886" width="78" height="28" rx="5"/><text x="1637" y="4905">解题思路：</text></g>
<g id="m10a" class="d"><rect x="1734" y="4886" width="150" height="28" rx="5"/><text x="1741" y="4905">（1）确认所用表现手法</text></g>

<g id="m11" class="d"><rect x="1630" y="5122" width="256" height="28" rx="5"/><text x="1637" y="5141">（2）明确常见表现手法的作用。如下表：</text></g>
<g id="m11a" class="d"><rect x="1911" y="4944" width="187" height="28" rx="5"/><text x="1918" y="4963">象征 引申事理，含蓄形象鲜明</text></g>
<g id="m11b" class="d"><rect x="1911" y="5002" width="187" height="28" rx="5"/><text x="1918" y="5021">衬托 突出所要表现的事物特点</text></g>
<g id="m11c" class="d"><rect x="1911" y="5059" width="187" height="28" rx="5"/><text x="1918" y="5078">扬抑 在变化的反差中突出事物</text></g>
<g id="m11d" class="d"><rect x="1911" y="5117" width="200" height="28" rx="5"/><text x="1918" y="5136">渲染 为行文设置铺垫，营造氛围</text></g>
<g id="m11e" class="d"><rect x="1911" y="5175" width="204" height="28" rx="5"/><text x="1918" y="5194">对比 突出事物特点，使形象鲜明</text></g>
<g id="m11f" class="d"><rect x="1911" y="5233" width="200" height="28" rx="5"/><text x="1918" y="5252">以小见大 小中见大，表现人、事</text></g>
<g id="m11g" class="d"><rect x="1911" y="5291" width="274" height="45" rx="5"/><text x="1918" y="5310">（3）明确所用表现手法并结合文句内容作答<tspan x="1918" dy="17">。</tspan></text></g>
<g id="m11g1" class="d"><rect x="2211" y="5299" width="84" height="28" rx="5"/><text x="2226" y="5318">6、物象类</text></g>

<g id="m12" class="d"><rect x="1630" y="5552" width="274" height="62" rx="5"/><text x="1637" y="5571">（1）宜从文章结构形式到内容主旨再到思想<tspan x="1637" dy="17">感情，多角度思考。对文章结构具体的思考角</tspan><tspan x="1637" dy="17">度如下：</tspan></text></g>
<g id="m12a" class="d"><rect x="1931" y="5366" width="103" height="28" rx="5"/><text x="1938" y="5385">开头结尾的谋划</text></g>
<g id="m12b" class="d"><rect x="1931" y="5424" width="113" height="28" rx="5"/><text x="1943" y="5443">详略主次的安排</text></g>
<g id="m12c" class="d"><rect x="1931" y="5481" width="113" height="28" rx="5"/><text x="1943" y="5500">行文线索的贯穿</text></g>
<g id="m12d" class="d"><rect x="1931" y="5540" width="113" height="28" rx="5"/><text x="1943" y="5559">过渡照应的勾连</text></g>
<g id="m12e" class="d"><rect x="1931" y="5597" width="113" height="28" rx="5"/><text x="1943" y="5616">伏笔悬念的设置</text></g>
<g id="m12f" class="d"><rect x="1931" y="5772" width="201" height="28" rx="5"/><text x="1938" y="5791">（2）内容上结合文章具体分析。</text></g>
<g id="m12f1" class="d"><rect x="2159" y="5656" width="63" height="28" rx="5"/><text x="2166" y="5675">思考角度</text></g>
<g id="m12f2" class="d"><rect x="2159" y="5714" width="168" height="28" rx="5"/><text x="2166" y="5733">①勾连上下文的线索作用；</text></g>
<g id="m12f3" class="d"><rect x="2159" y="5772" width="141" height="28" rx="5"/><text x="2166" y="5791">②对内容的充实作用；</text></g>
<g id="m12f4" class="d"><rect x="2159" y="5829" width="155" height="28" rx="5"/><text x="2166" y="5848">③主旨的深化升华作用；</text></g>
<g id="m12f5" class="d"><rect x="2159" y="5887" width="155" height="28" rx="5"/><text x="2166" y="5906">④寄托作者的思想感情。</text></g>
</g>
</svg>
